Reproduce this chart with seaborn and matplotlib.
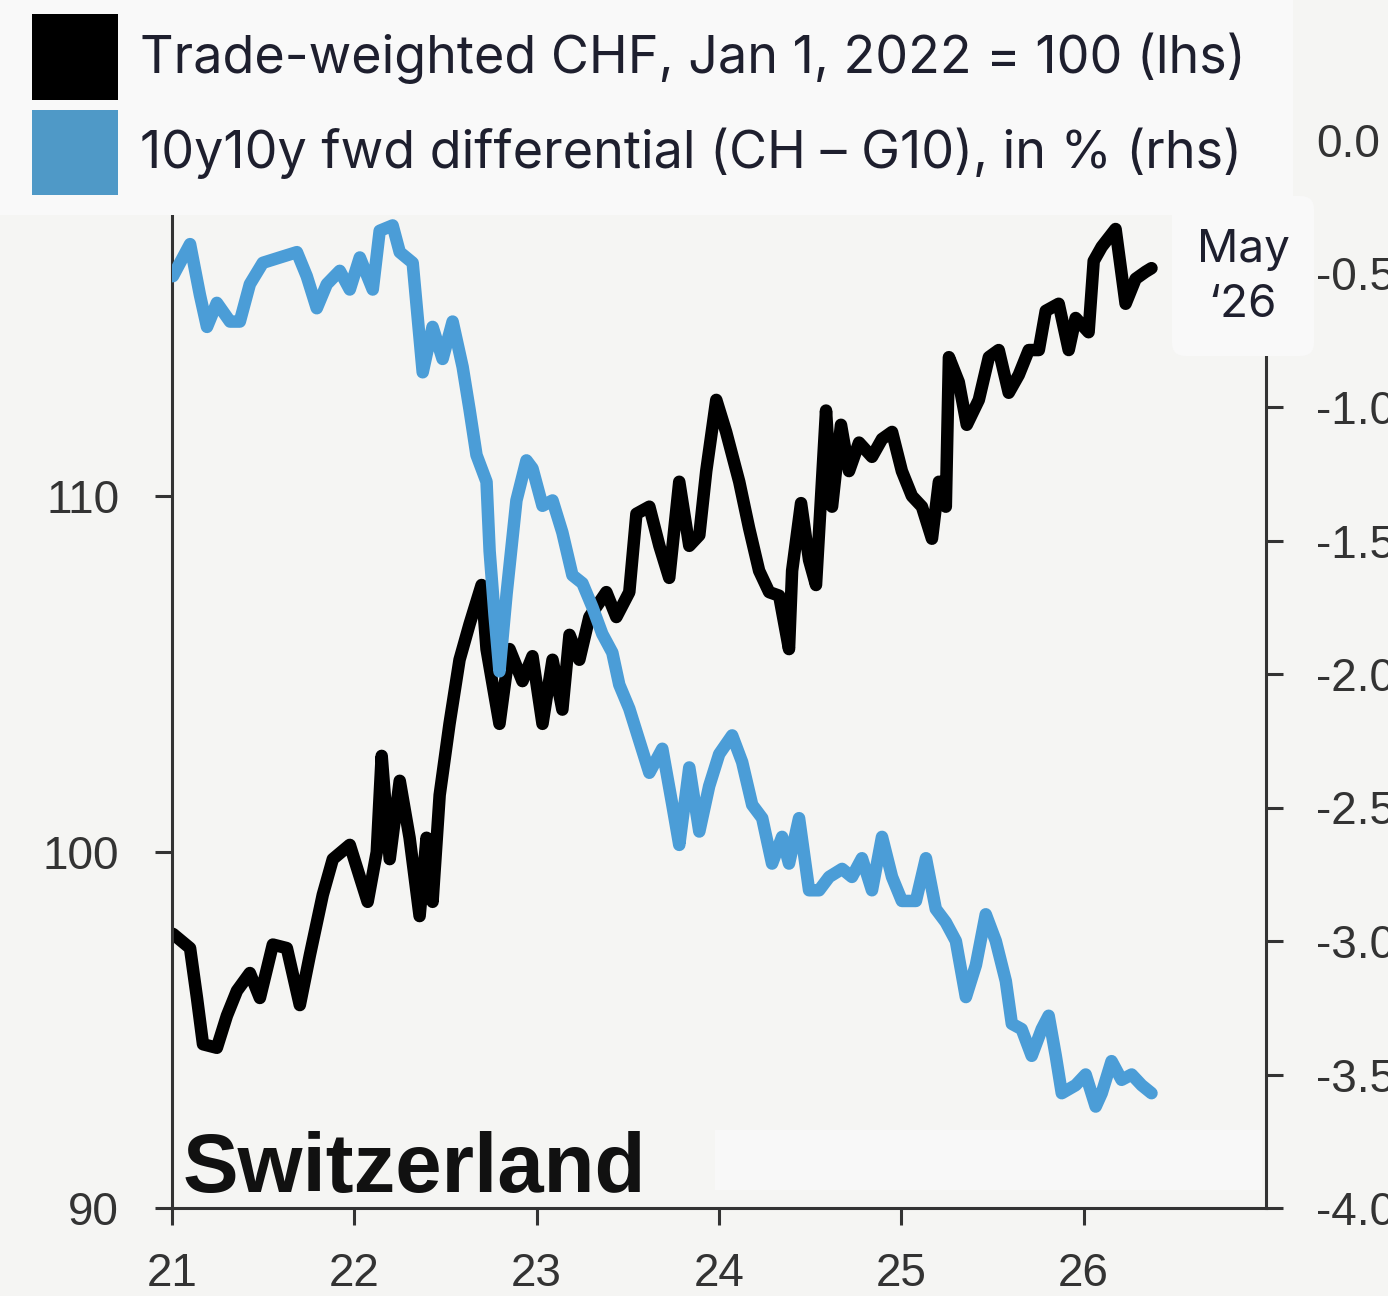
import pandas as pd
import seaborn as sns
import matplotlib
matplotlib.use("Agg")
from matplotlib import pyplot as plt
from matplotlib.patches import Rectangle, FancyBboxPatch

# ---- data (decimal year, value) ----
chf_year = [21.005, 21.099, 21.137, 21.170, 21.246, 21.301, 21.356, 21.427, 21.482, 21.553,
            21.630, 21.701, 21.756, 21.827, 21.882, 21.975, 22.030, 22.073, 22.123, 22.150,
            22.194, 22.249, 22.303, 22.358, 22.396, 22.429, 22.468, 22.522, 22.577, 22.632,
            22.698, 22.725, 22.796, 22.851, 22.922, 22.977, 23.032, 23.087, 23.141, 23.180,
            23.234, 23.289, 23.382, 23.437, 23.508, 23.547, 23.618, 23.673, 23.727, 23.782,
            23.837, 23.892, 23.930, 23.985, 24.039, 24.111, 24.165, 24.220, 24.275, 24.330,
            24.384, 24.401, 24.450, 24.494, 24.532, 24.587, 24.620, 24.669, 24.713, 24.768,
            24.839, 24.894, 24.949, 25.003, 25.058, 25.113, 25.168, 25.206, 25.244, 25.261,
            25.315, 25.359, 25.425, 25.480, 25.534, 25.589, 25.644, 25.699, 25.754, 25.792,
            25.863, 25.918, 25.956, 26.027, 26.055, 26.099, 26.175, 26.230, 26.285, 26.340,
            26.372]
chf_index = [97.7, 97.3, 95.9, 94.6, 94.5, 95.4, 96.1, 96.6, 95.9, 97.4,
             97.3, 95.7, 97.1, 98.8, 99.8, 100.2, 99.3, 98.6, 100.0, 102.7,
             99.8, 102.0, 100.4, 98.2, 100.4, 98.6, 101.6, 103.6, 105.4, 106.4,
             107.5, 105.7, 103.6, 105.7, 104.8, 105.5, 103.6, 105.4, 104.0, 106.1,
             105.4, 106.6, 107.3, 106.6, 107.3, 109.5, 109.7, 108.6, 107.7, 110.4,
             108.6, 108.9, 110.7, 112.7, 111.8, 110.4, 109.1, 107.9, 107.3, 107.2,
             105.7, 107.9, 109.8, 108.2, 107.5, 112.4, 109.7, 112.0, 110.7, 111.5,
             111.1, 111.6, 111.8, 110.7, 110.0, 109.7, 108.8, 110.4, 109.7, 113.9,
             113.2, 112.0, 112.7, 113.9, 114.1, 112.9, 113.4, 114.1, 114.1, 115.2,
             115.4, 114.1, 115.0, 114.6, 116.6, 117.0, 117.5, 115.4, 116.1, 116.3,
             116.4]

fwd_year = [21.005, 21.044, 21.099, 21.153, 21.192, 21.246, 21.318, 21.372, 21.427, 21.498,
            21.591, 21.685, 21.739, 21.794, 21.849, 21.920, 21.975, 22.030, 22.101, 22.139,
            22.210, 22.249, 22.320, 22.375, 22.429, 22.484, 22.539, 22.594, 22.632, 22.670,
            22.725, 22.742, 22.769, 22.796, 22.835, 22.889, 22.944, 22.977, 23.032, 23.087,
            23.141, 23.196, 23.251, 23.306, 23.360, 23.415, 23.453, 23.508, 23.563, 23.618,
            23.689, 23.744, 23.782, 23.837, 23.892, 23.946, 24.001, 24.072, 24.127, 24.182,
            24.237, 24.291, 24.346, 24.384, 24.439, 24.494, 24.549, 24.604, 24.675, 24.729,
            24.784, 24.839, 24.894, 24.949, 25.003, 25.080, 25.135, 25.189, 25.244, 25.299,
            25.354, 25.409, 25.463, 25.518, 25.573, 25.606, 25.660, 25.715, 25.770, 25.808,
            25.847, 25.880, 25.956, 26.011, 26.066, 26.099, 26.153, 26.208, 26.263, 26.318,
            26.372]
fwd_diff = [-0.51, -0.46, -0.39, -0.58, -0.70, -0.61, -0.68, -0.68, -0.54, -0.46,
            -0.44, -0.42, -0.51, -0.63, -0.54, -0.49, -0.56, -0.44, -0.56, -0.34,
            -0.32, -0.42, -0.46, -0.87, -0.70, -0.82, -0.68, -0.85, -1.01, -1.18,
            -1.28, -1.54, -1.78, -1.99, -1.70, -1.35, -1.20, -1.23, -1.37, -1.35,
            -1.47, -1.63, -1.66, -1.75, -1.85, -1.92, -2.04, -2.13, -2.25, -2.37,
            -2.28, -2.49, -2.64, -2.35, -2.59, -2.42, -2.30, -2.23, -2.33, -2.49,
            -2.54, -2.71, -2.61, -2.71, -2.54, -2.81, -2.81, -2.76, -2.73, -2.76,
            -2.69, -2.81, -2.61, -2.76, -2.85, -2.85, -2.69, -2.88, -2.93, -3.00,
            -3.21, -3.09, -2.90, -3.00, -3.15, -3.31, -3.33, -3.43, -3.33, -3.28,
            -3.43, -3.57, -3.54, -3.50, -3.62, -3.57, -3.45, -3.52, -3.50, -3.54,
            -3.57]

x_ticks = [21, 22, 23, 24, 25, 26]
left_ticks = [90, 100, 110]
right_ticks = [0.0, -0.5, -1.0, -1.5, -2.0, -2.5, -3.0, -3.5, -4.0]

legend_labels = ["Trade-weighted CHF, Jan 1, 2022 = 100 (lhs)",
                 "10y10y fwd differential (CH \u2013 G10), in % (rhs)"]

chf = pd.DataFrame({"year": chf_year, "value": chf_index})
fwd = pd.DataFrame({"year": fwd_year, "value": fwd_diff})

BG = "#f5f5f3"
BOX = "#f9f9f9"
BLACK = "#000000"
BLUE = "#4b9dd7"
BLUE_SQ = "#4f99c7"
AXC = "#333333"
TXT = "#1e1f2e"
LEG_FONT = ["Inter", "DejaVu Sans"]
LW = 9

sns.set_style("ticks")
plt.rcParams["font.family"] = ["Liberation Sans", "DejaVu Sans"]

W, H = 1388, 1296
fig = plt.figure(figsize=(W / 100, H / 100), dpi=100, facecolor=BG)
ax = fig.add_axes([172 / W, 1 - 1208 / H, (1266 - 172) / W, (1208 - 140) / H])
ax.set_facecolor(BG)

sns.lineplot(data=chf, x="year", y="value", ax=ax, color=BLACK, legend=False)
ax2 = ax.twinx()
sns.lineplot(data=fwd, x="year", y="value", ax=ax2, color=BLUE, legend=False)

# seaborn keeps its own default width, so set it on the drawn lines
for a in (ax, ax2):
    for ln in a.get_lines():
        ln.set_linewidth(LW)
        ln.set_solid_joinstyle("round")
        ln.set_solid_capstyle("round")

ax.set_xlim(21, 27)
ax.set_ylim(90, 120)
ax2.set_ylim(-4, 0)

ax.set_xticks(x_ticks)
ax.set_xticklabels([str(t) for t in x_ticks])
ax.set_yticks(left_ticks)
ax2.set_yticks(right_ticks)
ax2.set_yticklabels([f"{t:.1f}" for t in right_ticks])

for a in (ax, ax2):
    a.set_xlabel("")
    a.set_ylabel("")
    for s in a.spines.values():
        s.set_color(AXC)
        s.set_linewidth(2.2)
    a.spines["top"].set_visible(False)
ax.spines["right"].set_visible(False)
ax2.spines["left"].set_visible(False)
ax2.spines["bottom"].set_visible(False)

ax.tick_params(axis="both", direction="out", length=12, width=2.2, color=AXC,
               labelsize=33, labelcolor=AXC, pad=20)
ax.tick_params(axis="y", pad=26)
ax2.tick_params(axis="y", direction="out", length=12, width=2.2, color=AXC,
                labelsize=33, labelcolor=AXC, pad=24)

# light band behind the country label (as in the source image)
ax.add_patch(Rectangle((23.98, 90.5), 3.0, 1.7, facecolor="#f8f8f8", edgecolor="none", zorder=0))
ax.text(183 / W, 1 - 1192 / H, "Switzerland", transform=fig.transFigure, fontsize=60,
        fontweight="bold", color="#111111", va="baseline", ha="left", zorder=3)

# legend panel on top
fig.add_artist(Rectangle((0, 1 - 215 / H), 1293 / W, 215 / H, transform=fig.transFigure,
                         facecolor=BOX, edgecolor="none", zorder=5))
fig.add_artist(Rectangle((32 / W, 1 - 100 / H), 86 / W, 86 / H, transform=fig.transFigure,
                         facecolor=BLACK, edgecolor="none", zorder=6))
fig.add_artist(Rectangle((32 / W, 1 - 195 / H), 86 / W, 85 / H, transform=fig.transFigure,
                         facecolor=BLUE_SQ, edgecolor="none", zorder=6))
for lbl, base in zip(legend_labels, [73, 168]):
    fig.text(140 / W, 1 - base / H, lbl, fontsize=37.5, color=TXT, va="baseline", ha="left",
             family=LEG_FONT, zorder=7)

# end-date tag
fig.add_artist(FancyBboxPatch((1172 / W, 1 - 356 / H), 142 / W, 160 / H,
                              boxstyle="round,pad=0,rounding_size=0.01",
                              transform=fig.transFigure, facecolor=BOX, edgecolor="none", zorder=5))
fig.text(1243 / W, 1 - 262 / H, "May", fontsize=33, color=TXT, ha="center", va="baseline",
         family=LEG_FONT, zorder=7)
fig.text(1243 / W, 1 - 317 / H, "\u201826", fontsize=33, color=TXT, ha="center", va="baseline",
         family=LEG_FONT, zorder=7)

plt.savefig("out.png", dpi=100, facecolor=BG)
